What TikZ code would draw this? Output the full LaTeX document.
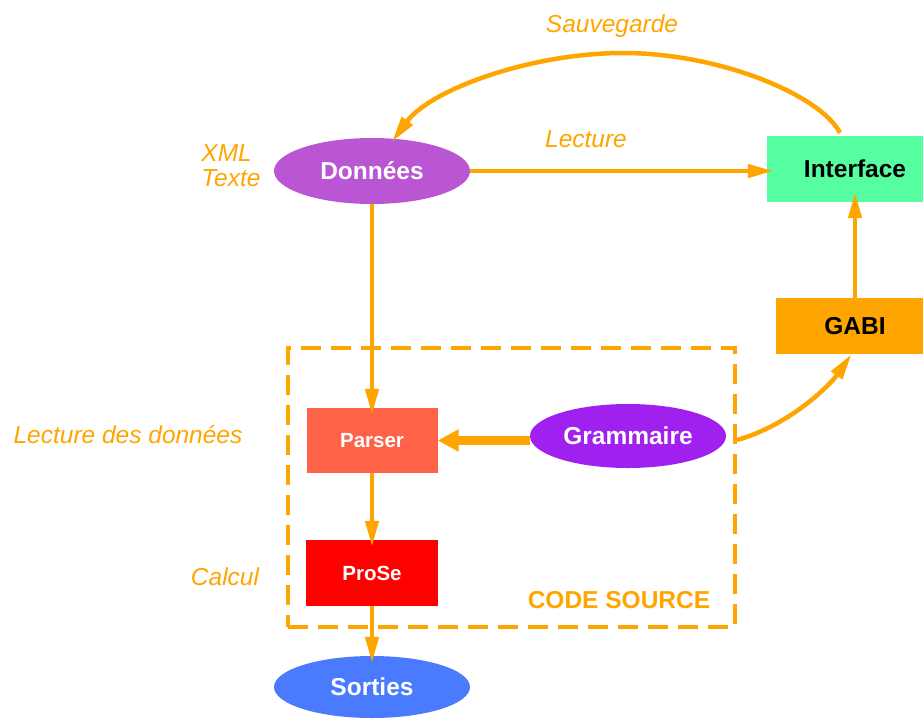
\documentclass[tikz,border=0pt]{standalone}
\usepackage{fontspec}
\setmainfont{Liberation Sans}
\usetikzlibrary{shapes.geometric,arrows.meta}
\definecolor{orng}{HTML}{FFA500}
\definecolor{donc}{HTML}{BA55D3}
\definecolor{intc}{HTML}{55FFA0}
\definecolor{parc}{HTML}{FF6347}
\definecolor{proc}{HTML}{FF0000}
\definecolor{gramc}{HTML}{A020F0}
\definecolor{sortc}{HTML}{4A7BFF}
\begin{document}
\begin{tikzpicture}[x=1pt,y=-1pt,
  bigtxt/.style={font=\fontsize{24.5}{29}\selectfont\bfseries},
  midtxt/.style={font=\fontsize{20.5}{24}\selectfont\bfseries},
  lab/.style={text=orng,font=\fontsize{24.5}{25}\selectfont\itshape,inner sep=0},
  ell/.style={ellipse,inner sep=0,minimum width=196,text=white,bigtxt},
  boxn/.style={rectangle,inner sep=0},
  arr/.style={draw=orng,line width=4.5,-{Triangle[length=26pt,width=13pt]},shorten >=-7pt},
]
\useasboundingbox (0,0) rectangle (923,718);

% dashed frame
\node[draw=orng,line width=4,dash pattern=on 20pt off 10pt,boxn,minimum width=447,minimum height=279] (frame) at (511.5,487.5) {};

% nodes
\node[ell,fill=donc,minimum height=66] (don) at (372,171) {Données};
\node[boxn,fill=intc,minimum width=156,minimum height=66,bigtxt] (int) at (845,169) {\hspace*{20pt}Interface};
\node[boxn,fill=orng,minimum width=147,minimum height=56,bigtxt] (gabi) at (849.5,326) {\hspace*{11pt}GABI};
\node[boxn,fill=parc,minimum width=131,minimum height=65,midtxt,text=white] (par) at (372,440.5) {Parser};
\node[boxn,fill=proc,minimum width=132,minimum height=66,midtxt,text=white] (pro) at (372,573) {ProSe};
\node[ell,fill=gramc,minimum height=64] (gram) at (628,436) {Grammaire};
\node[ell,fill=sortc,minimum height=62] (sort) at (372,687) {Sorties};

% labels
\node[lab,anchor=base] (sauv) at (612,32) {Sauvegarde};
\node[lab,anchor=base] (lect) at (586,147) {Lecture};
\node[lab,align=left] (xml) at (231,166) {XML\\Texte};
\node[lab,anchor=base] (ldd) at (128,443) {Lecture des données};
\node[lab,anchor=base] (calc) at (225,585) {Calcul};
\node[text=orng,bigtxt,anchor=base,inner sep=0] (cs) at (619,608) {CODE SOURCE};

% connectors
\draw[arr] (don.east) -- (int.west |- don.east);
\coordinate (top) at (623,53);
\draw[arr,shorten >=0pt] ([xshift=-5pt,yshift=3pt]int.north) .. controls (820,95) and (720,53) .. (top) .. controls (530,53) and (430,90) .. ([xshift=20pt,yshift=-4pt]don.north);
\draw[arr,shorten >=-10pt] ([xshift=5.5pt]gabi.north) -- ([xshift=10pt]int.south);
\draw[arr,shorten >=0pt] ([yshift=-4pt]gram.east -| frame.east) .. controls (790,425) and (830,385) .. ([xshift=2pt]gabi.south);
\draw[arr] (don.south) -- (par.north);
\draw[draw=orng,line width=9,-{Triangle[length=21pt,width=21pt]}] (par.east -| gram.west) -- (par.east);
\draw[arr] (par.south) -- (pro.north);
\draw[arr] (pro.south) -- (sort.north);
\end{tikzpicture}
\end{document}
